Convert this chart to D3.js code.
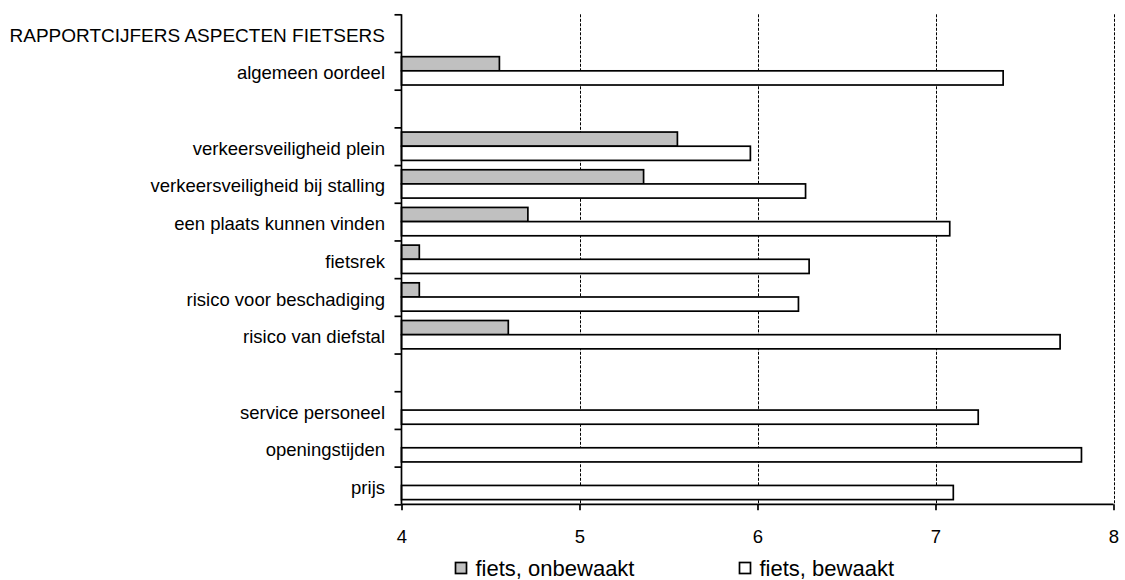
<!DOCTYPE html>
<html>
<head>
<meta charset="utf-8">
<script src="https://cdn.jsdelivr.net/npm/d3@7/dist/d3.min.js"></script>
<style>
  html, body { margin: 0; padding: 0; background: #fff; }
  svg { display: block; font-family: Arial, "Liberation Sans", sans-serif; }
</style>
</head>
<body>
<svg id="chart" width="1125" height="580"></svg>
<script>
// ---- data ----
const categories = [
  "RAPPORTCIJFERS ASPECTEN FIETSERS",
  "algemeen oordeel",
  "",
  "verkeersveiligheid plein",
  "verkeersveiligheid bij stalling",
  "een plaats kunnen vinden",
  "fietsrek",
  "risico voor beschadiging",
  "risico van diefstal",
  "",
  "service personeel",
  "openingstijden",
  "prijs"
];
const seriesNames = ["fiets, onbewaakt", "fiets, bewaakt"];
const onbewaakt = [null, 4.55, null, 5.55, 5.36, 4.71, 4.10, 4.10, 4.60, null, null, null, null];
const bewaakt   = [null, 7.38, null, 5.96, 6.27, 7.08, 6.29, 6.23, 7.70, null, 7.24, 7.82, 7.10];
const xTicks = [4, 5, 6, 7, 8];
const seriesFill = ["#c0c0c0", "#ffffff"];

// ---- layout ----
const svg = d3.select("#chart");
const xMin = 4, xMax = 8;
const x = d3.scaleLinear().domain([xMin, xMax]).range([401.5, 1113.5]);
const idx = d3.range(categories.length);
const y = d3.scaleBand().domain(idx).range([14.3, 504.3]).paddingInner(0).paddingOuter(0);
const ySub = d3.scaleBand().domain([0, 1]).range([0, y.bandwidth()]).paddingInner(0).paddingOuter(0.33);
const yEdges = d3.scaleLinear().domain([0, categories.length]).range([14.3, 504.3]);

// gridlines (dashed)
svg.append("g")
  .selectAll("line")
  .data(xTicks.filter(t => t > xMin))
  .join("line")
  .attr("x1", d => Math.round(x(d)) + 0.5)
  .attr("x2", d => Math.round(x(d)) + 0.5)
  .attr("y1", 14.3)
  .attr("y2", 504.3)
  .attr("stroke", "#000")
  .attr("stroke-width", 1)
  .attr("stroke-dasharray", "3,1.5");

// bars
const series = [onbewaakt, bewaakt];
series.forEach((vals, s) => {
  svg.append("g")
    .selectAll("rect")
    .data(idx.filter(i => vals[i] != null))
    .join("rect")
    .attr("x", x(xMin))
    .attr("y", i => y(i) + ySub(s))
    .attr("width", i => x(vals[i]) - x(xMin))
    .attr("height", ySub.bandwidth())
    .attr("fill", seriesFill[s])
    .attr("stroke", "#000")
    .attr("stroke-width", 1.7);
});

// y axis: ticks at band edges
const yAxisTicks = svg.append("g")
  .attr("transform", `translate(${x(xMin)},0)`)
  .call(d3.axisLeft(yEdges).tickValues(d3.range(categories.length + 1)).tickSize(7).tickFormat(""));
yAxisTicks.select(".domain").attr("d", `M0,14.3V504.3`).attr("stroke-width", 1.7);
yAxisTicks.selectAll(".tick line").attr("stroke-width", 1.7);

// y labels
const yLabels = svg.append("g")
  .attr("transform", `translate(${x(xMin)},0)`)
  .call(d3.axisLeft(y).tickSize(0).tickPadding(16.5).tickFormat(i => categories[i]));
yLabels.select(".domain").remove();
yLabels.selectAll("text")
  .attr("font-size", i => i === 0 ? 19 : 18.5)
  .attr("font-family", "Arial, 'Liberation Sans', sans-serif")
  .attr("fill", "#000")
  .attr("dy", "0.46em");

// x axis
const xAxis = svg.append("g")
  .attr("transform", `translate(0,504.3)`)
  .call(d3.axisBottom(x).tickValues(xTicks).tickSize(6).tickPadding(20).tickFormat(d3.format("d")));
xAxis.select(".domain").attr("d", `M${x(xMin)},0H${x(xMax)}`).attr("stroke-width", 1.7);
xAxis.selectAll(".tick line").attr("stroke-width", 1.7);
xAxis.selectAll("text")
  .attr("font-size", 18.5)
  .attr("font-family", "Arial, 'Liberation Sans', sans-serif")
  .attr("fill", "#000");

// legend
const legendX = [455.5, 739.5];
const legend = svg.append("g");
seriesNames.forEach((name, s) => {
  legend.append("rect")
    .attr("x", legendX[s])
    .attr("y", 562.5)
    .attr("width", 11)
    .attr("height", 11)
    .attr("fill", seriesFill[s])
    .attr("stroke", "#000")
    .attr("stroke-width", 1.7);
  legend.append("text")
    .attr("x", legendX[s] + 20)
    .attr("y", 576)
    .attr("font-size", 22)
    .attr("fill", "#000")
    .text(name);
});
</script>
</body>
</html>
